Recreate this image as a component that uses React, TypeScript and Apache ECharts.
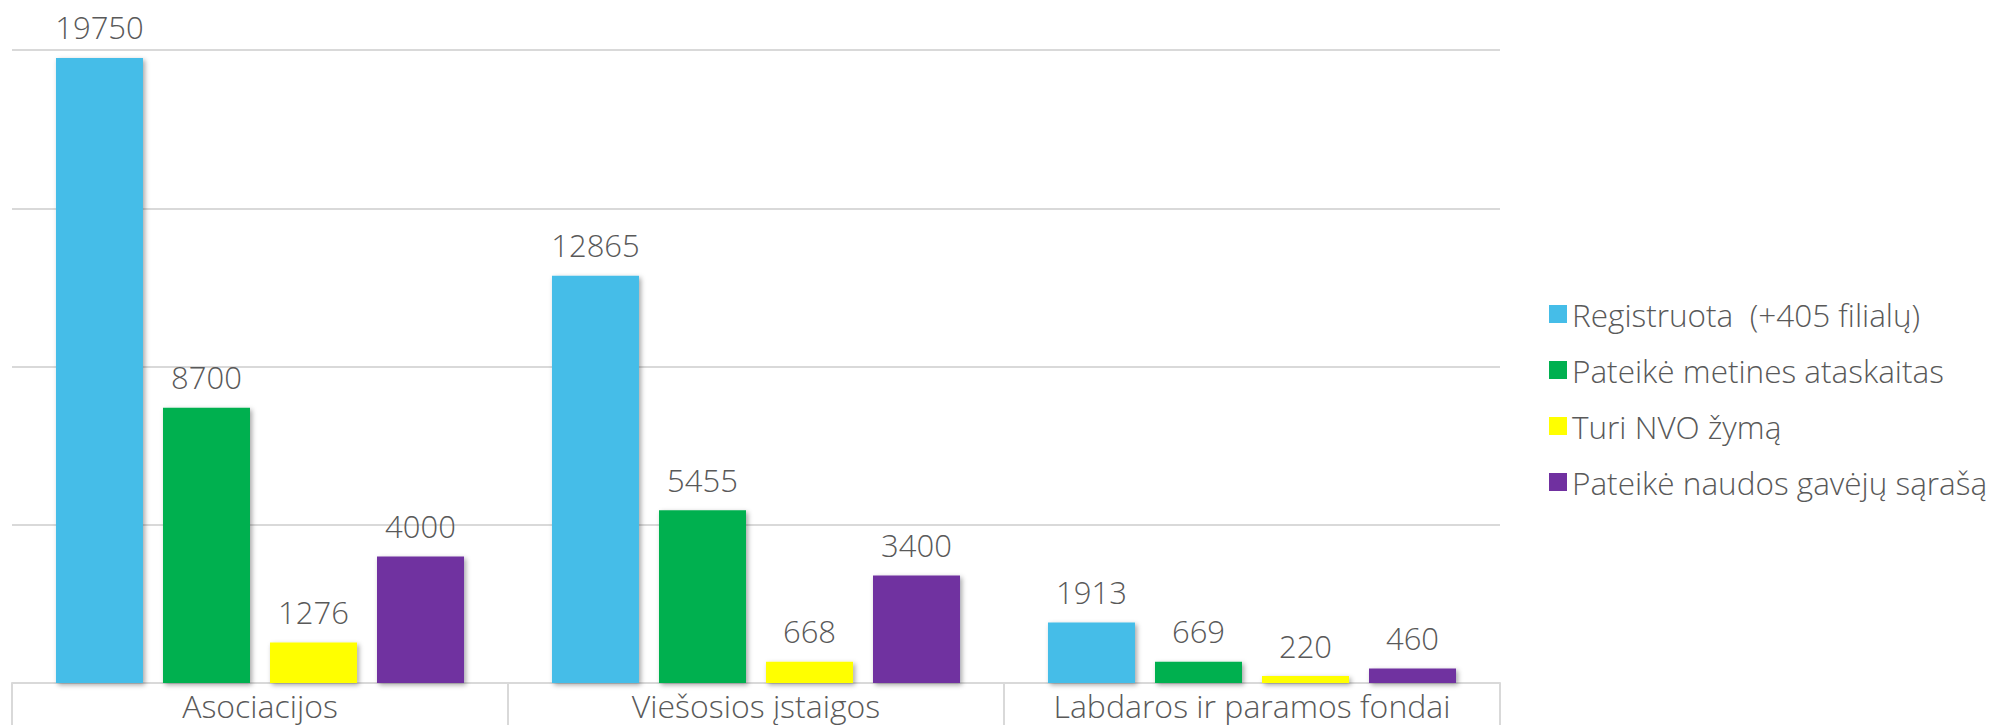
import React, { useEffect, useRef } from "react";
import * as echarts from "echarts";

const categories = ["Asociacijos", "Viešosios įstaigos", "Labdaros ir paramos fondai"];
const seriesNames = [
  "Registruota  (+405 filialų)",
  "Pateikė metines ataskaitas",
  "Turi NVO žymą",
  "Pateikė naudos gavėjų sąrašą",
];
const registruota = [19750, 12865, 1913];
const metines = [8700, 5455, 669];
const nvoZyma = [1276, 668, 220];
const gavejai = [4000, 3400, 460];
const colors = ["#45BDE8", "#00B050", "#FFFF00", "#7030A0"];

const FONT = "'Open Sans', Lato, sans-serif";
const TXT = "#595959";

export default function App() {
  const ref = useRef<HTMLDivElement>(null);
  useEffect(() => {
    if (!ref.current) return;
    const chart = echarts.init(ref.current, null, { renderer: "svg" });
    const data = [registruota, metines, nvoZyma, gavejai];
    chart.setOption({
      animation: false,
      textStyle: { fontFamily: FONT },
      grid: { left: 12, right: 497, top: 50, bottom: 42, containLabel: false },
      legend: {
        orient: "vertical",
        left: 1544,
        top: 293,
        itemWidth: 18,
        itemHeight: 18,
        itemGap: 24,
        icon: "rect",
        textStyle: { fontSize: 31.5, fontWeight: 300, color: TXT, fontFamily: FONT, lineHeight: 32 },
        data: seriesNames,
      },
      xAxis: {
        type: "category",
        data: categories,
        boundaryGap: true,
        axisLine: { lineStyle: { color: "#d9d9d9", width: 2 } },
        axisTick: { show: true, length: 45, interval: 0, lineStyle: { color: "#d9d9d9", width: 2 } },
        axisLabel: { interval: 0, hideOverlap: false, fontSize: 32, fontWeight: 300, color: TXT, fontFamily: FONT, margin: 6 },
      },
      yAxis: {
        type: "value",
        min: 0,
        max: 20000,
        interval: 5000,
        axisLabel: { show: false },
        axisLine: { show: false },
        axisTick: { show: false },
        splitLine: { lineStyle: { color: "#d9d9d9", width: 2 } },
      },
      series: seriesNames.map((name, i) => ({
        name,
        type: "bar",
        data: data[i],
        barWidth: 87,
        barGap: "23%",
        itemStyle: {
          color: colors[i],
          shadowColor: "rgba(0,0,0,0.35)",
          shadowBlur: 5,
          shadowOffsetX: 2,
          shadowOffsetY: 2,
        },
        label: {
          show: true,
          position: "top",
          distance: 15,
          fontSize: 31,
          fontWeight: 300,
          color: TXT,
          fontFamily: FONT,
        },
      })),
    });
    return () => chart.dispose();
  }, []);
  return <div ref={ref} style={{ width: 1997, height: 725, position: "absolute", left: 0, top: 0 }} />;
}
